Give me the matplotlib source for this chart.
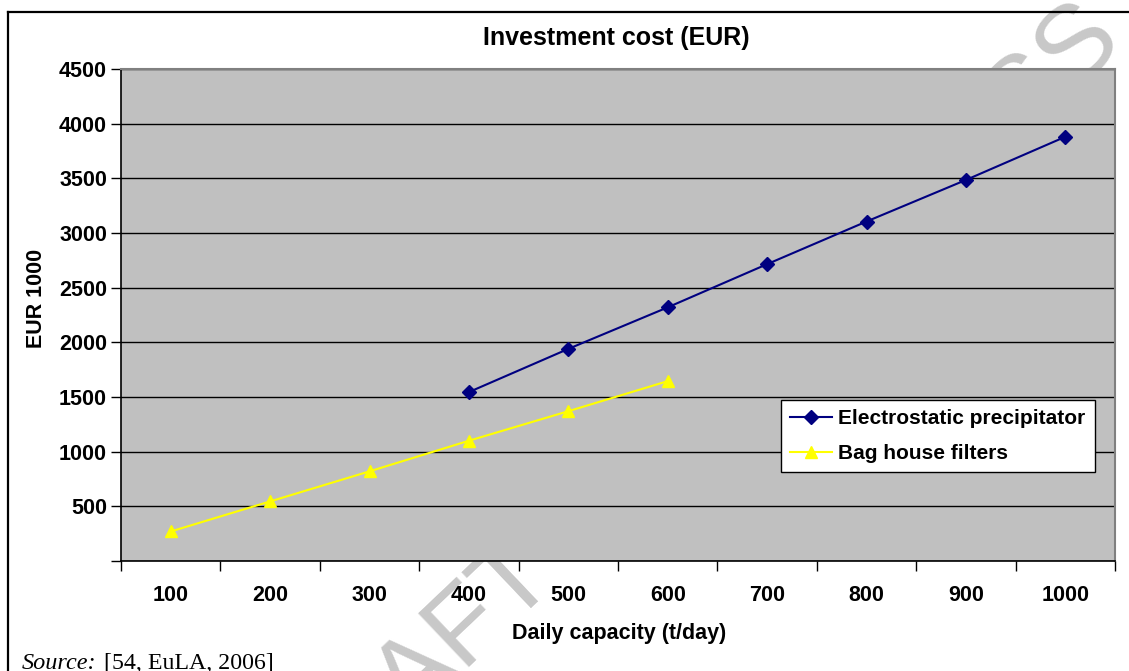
import matplotlib.pyplot as plt
from matplotlib.lines import Line2D

capacities = [100, 200, 300, 400, 500, 600, 700, 800, 900, 1000]

esp_capacity = [400, 500, 600, 700, 800, 900, 1000]
esp_cost = [1545, 1940, 2320, 2715, 3105, 3485, 3880]

bag_capacity = [100, 200, 300, 400, 500, 600]
bag_cost = [270, 545, 820, 1100, 1370, 1645]

y_ticks = [0, 500, 1000, 1500, 2000, 2500, 3000, 3500, 4000, 4500]

W, H = 1129, 671
fig = plt.figure(figsize=(W / 100, H / 100), dpi=100)

# outer frame of the document table
fig.add_artist(Line2D([8 / W, 8 / W], [0, 1 - 12 / H], color='black', lw=1.6))
fig.add_artist(Line2D([8 / W, 1], [1 - 12 / H, 1 - 12 / H], color='black', lw=1.6))

# watermark behind the chart
fig.text(1126 / W, 1 - 44 / H, 'DRAFT IN PROGRESS', fontsize=78, color='#c8c8c8',
         family='Liberation Sans', rotation=43.5, ha='right', va='baseline',
         rotation_mode='anchor', zorder=-1)

ax = fig.add_axes([121 / W, 1 - 561 / H, 994 / W, 492 / H])
ax.set_facecolor('#c0c0c0')

pos = {c: i for i, c in enumerate(capacities)}
ax.plot([pos[c] for c in esp_capacity], esp_cost, color='#000080', lw=1.5,
        marker='D', markersize=7, label='Electrostatic precipitator')
ax.plot([pos[c] for c in bag_capacity], bag_cost, color='#ffff00', lw=1.5,
        marker='^', markersize=9, label='Bag house filters')

ax.set_xlim(-0.5, len(capacities) - 0.5)
ax.set_ylim(0, 4500)

font = dict(family='Liberation Sans', weight='bold')

ax.set_xticks([i - 0.5 for i in range(len(capacities) + 1)])
ax.set_xticklabels([])
ax.set_xticks(range(len(capacities)), minor=True)
ax.set_xticklabels([str(c) for c in capacities], minor=True, fontsize=15.5, **font)
ax.tick_params(axis='x', which='major', length=7, width=1, direction='out')
ax.tick_params(axis='x', which='minor', length=0, pad=17)

ax.set_yticks(y_ticks)
ax.set_yticklabels(['' if v == 0 else str(v) for v in y_ticks], fontsize=15.5, **font)
ax.tick_params(axis='y', length=7, width=1, direction='out', pad=3)

ax.yaxis.grid(True, color='black', lw=1)
ax.set_axisbelow(True)

for side in ['top', 'right']:
    ax.spines[side].set_color('#808080')
    ax.spines[side].set_linewidth(1.5)
for side in ['left', 'bottom']:
    ax.spines[side].set_color('black')
    ax.spines[side].set_linewidth(1.2)

leg = ax.legend(loc='upper left', bbox_to_anchor=(0.664, 0.327), fancybox=False,
                edgecolor='black', framealpha=1, borderpad=0.45, handlelength=2.0,
                handletextpad=0.3, labelspacing=0.75, borderaxespad=0,
                prop=dict(family='Liberation Sans', weight='bold', size=15))
leg.get_frame().set_linewidth(1)

fig.text(616 / W, 1 - 38 / H, 'Investment cost (EUR)', ha='center', va='center',
         fontsize=18, **font)
fig.text(619 / W, 1 - 633 / H, 'Daily capacity (t/day)', ha='center', va='center',
         fontsize=15.5, **font)
fig.text(37 / W, 1 - 298 / H, 'EUR 1000', ha='center', va='center', rotation=90,
         fontsize=15.5, **font)

fig.text(22 / W, 1 - 669 / H, 'Source:', ha='left', va='baseline', fontsize=17.5,
         family='Liberation Serif', style='italic')
fig.text(104 / W, 1 - 669 / H, '[54, EuLA, 2006]', ha='left', va='baseline', fontsize=17.2,
         family='Liberation Serif')

fig.savefig('out.png', dpi=100)
